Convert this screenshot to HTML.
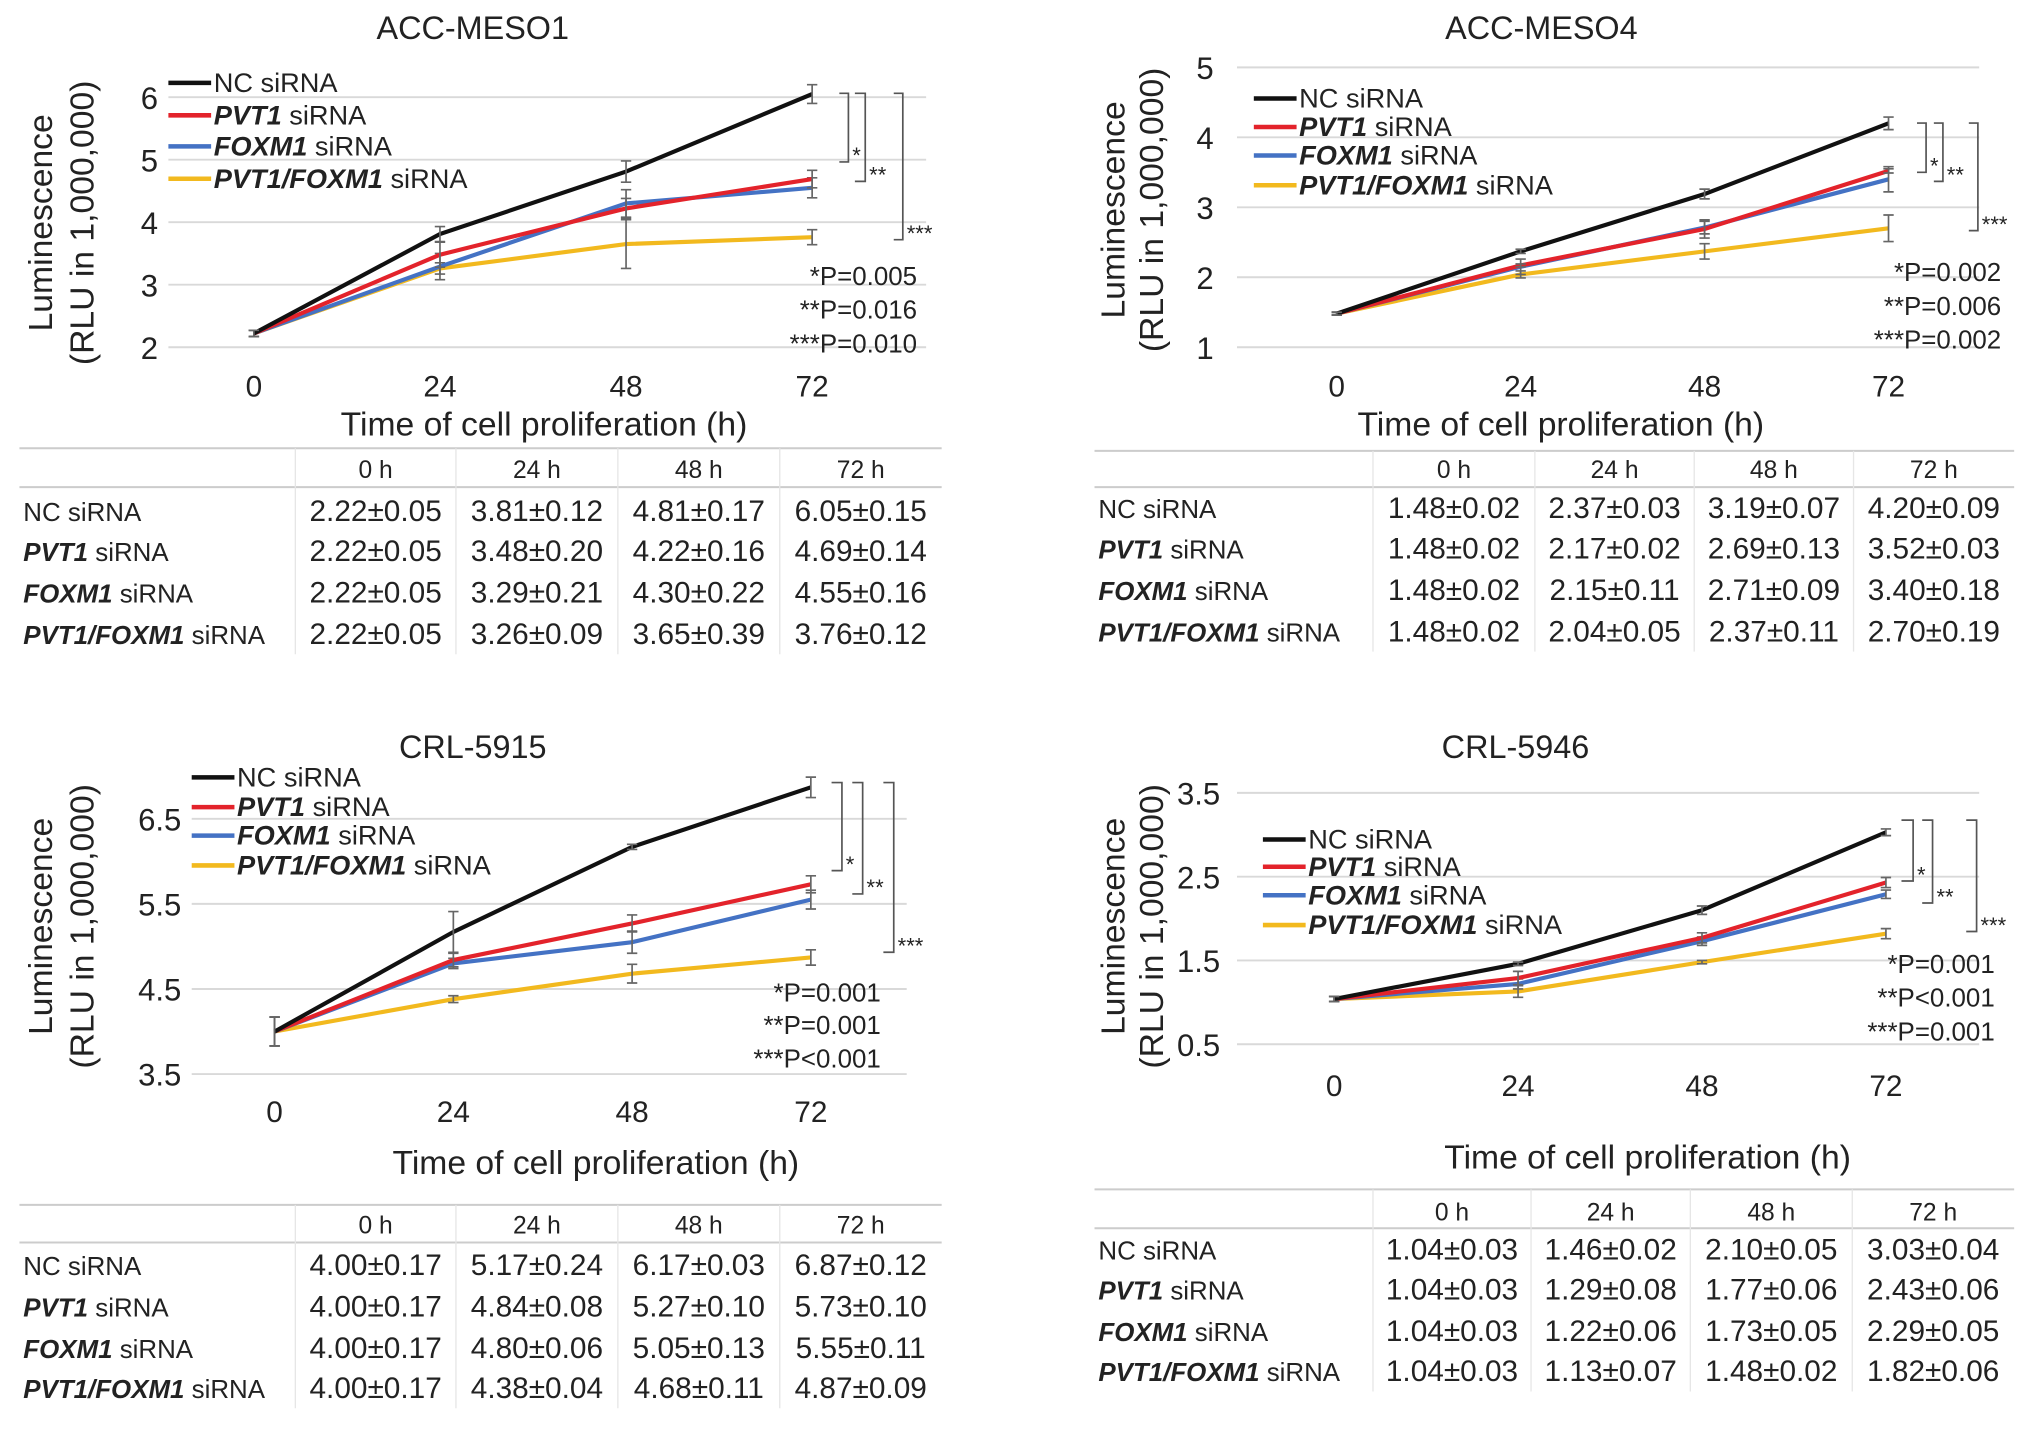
<!DOCTYPE html>
<html><head><meta charset="utf-8">
<style>
html,body{margin:0;padding:0;background:#fff;overflow:hidden}
#wrap{width:1568px;height:1113px;transform:scale(1.29528,1.29559);transform-origin:0 0;position:relative}
svg text{font-family:"Liberation Sans",Arial,sans-serif;fill:#222}
</style></head><body>
<div id="wrap">
<svg id="svg" width="1568" height="1113" viewBox="0 0 1568 1113" xmlns="http://www.w3.org/2000/svg"></svg>
</div>
<script>
const hours = [0, 24, 48, 72];
const seriesNames = ["NC", "PVT1", "FOXM1", "PVT1/FOXM1"];
const colors = ["#111111", "#e3232b", "#4472c4", "#f2b91e"];
// panel data
const m1Mean = [[2.22,3.81,4.81,6.05],[2.22,3.48,4.22,4.69],[2.22,3.29,4.30,4.55],[2.22,3.26,3.65,3.76]];
const m1Err  = [[0.05,0.12,0.17,0.15],[0.05,0.20,0.16,0.14],[0.05,0.21,0.22,0.16],[0.05,0.09,0.39,0.12]];
const m1Ticks = [2,3,4,5,6];
const m1P = ["*P=0.005","**P=0.016","***P=0.010"];
const m4Mean = [[1.48,2.37,3.19,4.20],[1.48,2.17,2.69,3.52],[1.48,2.15,2.71,3.40],[1.48,2.04,2.37,2.70]];
const m4Err  = [[0.02,0.03,0.07,0.09],[0.02,0.02,0.13,0.03],[0.02,0.11,0.09,0.18],[0.02,0.05,0.11,0.19]];
const m4Ticks = [1,2,3,4,5];
const m4P = ["*P=0.002","**P=0.006","***P=0.002"];
const c15Mean = [[4.00,5.17,6.17,6.87],[4.00,4.84,5.27,5.73],[4.00,4.80,5.05,5.55],[4.00,4.38,4.68,4.87]];
const c15Err  = [[0.17,0.24,0.03,0.12],[0.17,0.08,0.10,0.10],[0.17,0.06,0.13,0.11],[0.17,0.04,0.11,0.09]];
const c15Ticks = [3.5,4.5,5.5,6.5];
const c15P = ["*P=0.001","**P=0.001","***P<0.001"];
const c46Mean = [[1.04,1.46,2.10,3.03],[1.04,1.29,1.77,2.43],[1.04,1.22,1.73,2.29],[1.04,1.13,1.48,1.82]];
const c46Err  = [[0.03,0.02,0.05,0.04],[0.03,0.08,0.06,0.06],[0.03,0.06,0.05,0.05],[0.03,0.07,0.02,0.06]];
const c46Ticks = [0.5,1.5,2.5,3.5];
const c46P = ["*P=0.001","**P<0.001","***P=0.001"];

const NS="http://www.w3.org/2000/svg";
const svg=document.getElementById('svg');
function el(tag,attrs,parent,txt){const e=document.createElementNS(NS,tag);for(const k in attrs)e.setAttribute(k,attrs[k]);if(txt!==undefined)e.textContent=txt;(parent||svg).appendChild(e);return e;}

const panels=[
 {id:"acc-meso1",title:"ACC-MESO1",mean:m1Mean,err:m1Err,ticks:m1Ticks,P:m1P,
  titleX:365,titleY:30,yv:[2,6],yp:[268,75],xp:[196,627],gx:[130,715],tickX:130,tickY:306,
  xtX:420,xtY:336,ytX:[40,72],ytY:172,legX:130,legY:[64,89,113,138],
  br:[[648,655,72,125,"*"],[660,668,72,140,"**"],[690,697,72,185,"***"]],pX:708,pY:[220,246,272],
  tbl:{top:346,hdr:362,line:376,rows:[394,425,457,489],cols:[15,228,352,477,602,727]}},
 {id:"acc-meso4",title:"ACC-MESO4",mean:m4Mean,err:m4Err,ticks:m4Ticks,P:m4P,
  titleX:1190,titleY:30,yv:[1,5],yp:[268,52],xp:[1032,1458],gx:[955,1528],tickX:945,tickY:306,
  xtX:1205,xtY:336,ytX:[868,898],ytY:162,legX:968,legY:[76,98,120,143],
  br:[[1480,1487,95,133,"*"],[1493,1500,95,140,"**"],[1520,1527,95,178,"***"]],pX:1545,pY:[217,243,269],
  tbl:{top:348,hdr:362,line:376,rows:[392,423,455,487],cols:[845,1060,1185,1308,1431,1555]}},
 {id:"crl-5915",title:"CRL-5915",mean:c15Mean,err:c15Err,ticks:c15Ticks,P:c15P,
  titleX:365,titleY:585,yv:[3.5,6.5],yp:[829,632],xp:[212,626],gx:[148,700],tickX:148,tickY:866,
  xtX:460,xtY:906,ytX:[40,72],ytY:715,legX:148,legY:[600,623,645,668],
  br:[[642,650,604,672,"*"],[658,666,604,690,"**"],[682,690,604,735,"***"]],pX:680,pY:[773,798,824],
  tbl:{top:930,hdr:945,line:959,rows:[976,1008,1040,1071],cols:[15,228,352,477,602,727]}},
 {id:"crl-5946",title:"CRL-5946",mean:c46Mean,err:c46Err,ticks:c46Ticks,P:c46P,
  titleX:1170,titleY:585,yv:[0.5,3.5],yp:[806,612],xp:[1030,1456],gx:[955,1528],tickX:950,tickY:846,
  xtX:1272,xtY:902,ytX:[868,898],ytY:715,legX:975,legY:[648,669,691,714],
  br:[[1468,1477,633,680,"*"],[1484,1492,633,697,"**"],[1518,1526,633,719,"***"]],pX:1540,pY:[751,777,803],
  tbl:{top:918,hdr:935,line:948,rows:[964,995,1027,1058],cols:[845,1060,1182,1305,1430,1555]}}
];

function legendLabel(i,x,y,size,parent){
  const tx=el('text',{x:x,y:y+7,'font-size':size},parent);
  if(i===0){tx.textContent="NC siRNA";}
  else{el('tspan',{'font-style':'italic','font-weight':'bold'},tx,seriesNames[i]);el('tspan',{},tx," siRNA");}
  return tx;
}

panels.forEach(p=>{
  const g=el('g',{});
  
  
  const ys=v=>p.yp[0]+(v-p.yv[0])*(p.yp[1]-p.yp[0])/(p.yv[1]-p.yv[0]);
  const xs=h=>p.xp[0]+(h-hours[0])*(p.xp[1]-p.xp[0])/(hours[3]-hours[0]);
  const t=el('text',{x:p.titleX,y:p.titleY,'font-size':25,'text-anchor':'middle'},g,p.title);
  
  p.ticks.forEach(v=>{
    const l=el('line',{x1:p.gx[0],x2:p.gx[1],y1:ys(v),y2:ys(v),stroke:'#d9d9d9','stroke-width':1.5},g);
    
    const tt=el('text',{x:p.tickX-8,y:ys(v)+9,'font-size':24,'text-anchor':'end'},g,String(v));
    
  });
  hours.forEach(h=>{
    const tt=el('text',{x:xs(h),y:p.tickY,'font-size':23,'text-anchor':'middle'},g,String(h));
    
  });
  const xt=el('text',{x:p.xtX,y:p.xtY,'font-size':26,'text-anchor':'middle'},g,"Time of cell proliferation (h)");
  
  const yt=el('text',{transform:`translate(${p.ytX[0]},${p.ytY}) rotate(-90)`,'font-size':26,'text-anchor':'middle'},g,"Luminescence");
  
  const yt2=el('text',{transform:`translate(${p.ytX[1]},${p.ytY}) rotate(-90)`,'font-size':26,'text-anchor':'middle'},g,"(RLU in 1,000,000)");
  
  for(let s=3;s>=0;s--){
    const pts=hours.map((h,i)=>xs(h)+','+ys(p.mean[s][i])).join(' ');
    const pl=el('polyline',{points:pts,fill:'none',stroke:colors[s],'stroke-width':3.2},g);
    
    
    hours.forEach((h,i)=>{
      const x=xs(h),y1=ys(p.mean[s][i]-p.err[s][i]),y2=ys(p.mean[s][i]+p.err[s][i]);
      const eb=el('path',{d:`M${x},${y1}V${y2}M${x-4},${y1}H${x+4}M${x-4},${y2}H${x+4}`,stroke:'#666','stroke-width':1.3,fill:'none'},g);
      
    });
  }
  p.legY.forEach((y,i)=>{
    const lg=el('g',{},g);
    
    el('line',{x1:p.legX,x2:p.legX+33,y1:y,y2:y,stroke:colors[i],'stroke-width':3.5},lg);
    legendLabel(i,p.legX+35,y,21,lg);
  });
  p.br.forEach(b=>{
    const bp=el('path',{d:`M${b[0]},${b[2]}H${b[1]}V${b[3]}H${b[0]}`,stroke:'#555','stroke-width':1.3,fill:'none'},g);
    
    const bt=el('text',{x:b[1]+3,y:b[3]+1,'font-size':17},g,b[4]);
    
  });
  p.P.forEach((s,i)=>{
    const pt=el('text',{x:p.pX,y:p.pY[i],'font-size':20,'text-anchor':'end'},g,s);
    
  });
  const T=p.tbl,c=T.cols;
  const tg=el('g',{},g);
  
  el('line',{x1:c[0],x2:c[5],y1:T.top,y2:T.top,stroke:'#ccc','stroke-width':1.5},tg);
  el('line',{x1:c[0],x2:c[5],y1:T.line,y2:T.line,stroke:'#ccc','stroke-width':1.5},tg);
  for(let k=1;k<5;k++)el('line',{x1:c[k],x2:c[k],y1:T.top,y2:T.rows[3]+16,stroke:'#e6e6e6','stroke-width':1},tg);
  hours.forEach((h,k)=>{
    const ht=el('text',{x:(c[k+1]+c[k+2])/2,y:T.hdr+7,'font-size':19,'text-anchor':'middle'},tg,h+" h");
    
  });
  T.rows.forEach((y,s)=>{
    const lt=legendLabel(s,c[0]+3,y+1,20,tg);
    
    hours.forEach((h,k)=>{
      const vt=el('text',{x:(c[k+1]+c[k+2])/2,y:y+8,'font-size':23,'text-anchor':'middle'},tg,p.mean[s][k].toFixed(2)+"±"+p.err[s][k].toFixed(2));
      
    });
  });
});
</script>
</body></html>
